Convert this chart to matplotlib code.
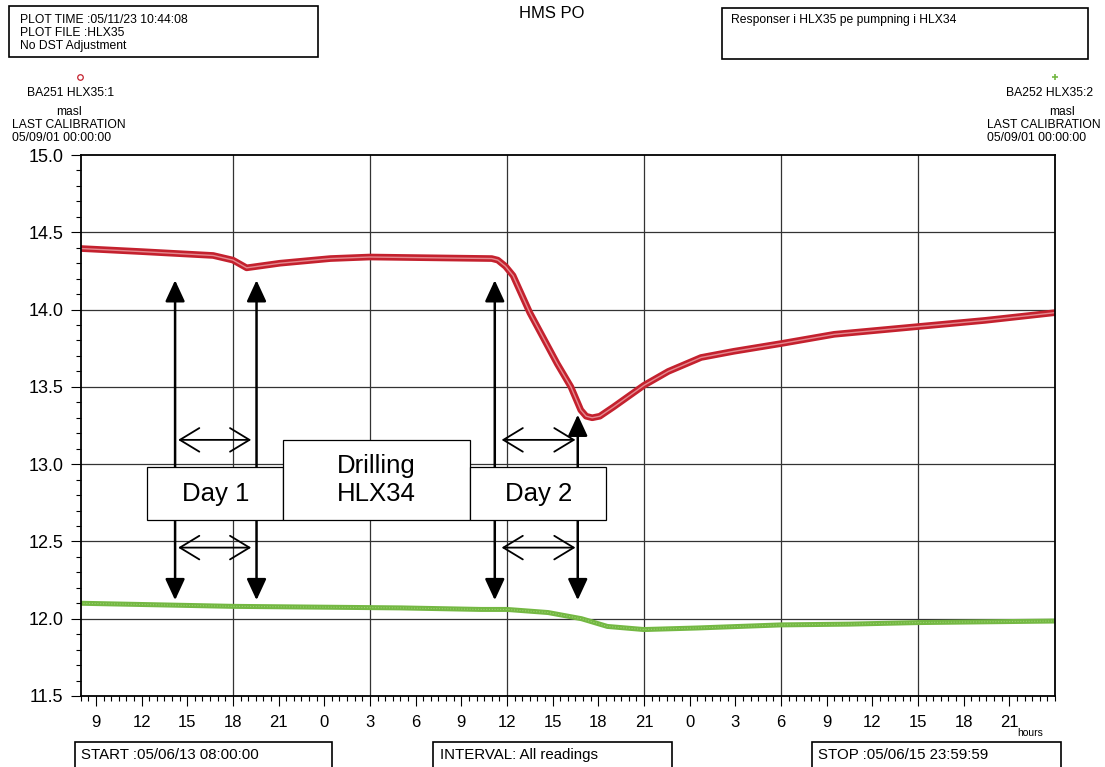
import matplotlib
matplotlib.use("Agg")
import matplotlib.pyplot as plt
from matplotlib.patches import Rectangle, FancyArrowPatch
from matplotlib.ticker import FixedLocator, MultipleLocator, FuncFormatter
from matplotlib.lines import Line2D

plt.rcParams['font.family'] = ['Liberation Sans', 'DejaVu Sans']

# hours since START (05/06/13 08:00:00)
red_hours = [0, 4, 8.7, 10, 10.9, 13.1, 16.4, 19, 23, 27, 27.4, 27.9, 28.4,
             29.5, 31.3, 32.2, 32.85, 33.2, 33.6, 34.1, 35, 37, 38.6, 40.75,
             42.9, 46, 49.5, 55, 59.4, 64]
red_vals = [14.395, 14.375, 14.35, 14.32, 14.27, 14.30, 14.33, 14.34, 14.335,
            14.33, 14.32, 14.28, 14.22, 13.98, 13.65, 13.50, 13.35, 13.31,
            13.30, 13.31, 13.37, 13.51, 13.60, 13.69, 13.73, 13.78, 13.84,
            13.89, 13.93, 13.98]

green_hours = [0, 10, 21, 26.3, 28, 30.7, 32.9, 34.6, 37, 40.5, 46, 50.5, 55, 64]
green_vals = [12.10, 12.08, 12.07, 12.06, 12.06, 12.04, 12.00, 11.95, 11.93,
              11.94, 11.96, 11.965, 11.975, 11.985]

grid_hours = [10, 19, 28, 37, 46, 55]
grid_levels = [12.0, 12.5, 13.0, 13.5, 14.0, 14.5]
label_hours = list(range(1, 64, 3))
start_hour = 8

# annotation layout (hours, masl)
vert_arrows = [(6.2, 14.19), (11.55, 14.19), (27.2, 14.19), (32.65, 13.32)]
arrow_bottom = 12.12
horiz_arrows = [(6.4, 11.2), (27.65, 32.5)]
horiz_levels = [13.157, 12.46]
boxes = [("Day 1", 4.37, 13.3, 12.64, 12.98),
         ("Drilling\nHLX34", 13.26, 25.6, 12.64, 13.157),
         ("Day 2", 25.6, 34.5, 12.64, 12.98)]

W, H = 1105, 767
fig = plt.figure(figsize=(W / 100, H / 100), dpi=100)
ax = fig.add_axes([80.7 / W, 1 - 696 / H, (1055 - 80.7) / W, (696 - 155) / H])

small = 8.7


def px(x, y):
    return x / W, 1 - y / H


def fig_box(x0, y0, x1, y1):
    fig.patches.append(Rectangle(px(x0, y1), (x1 - x0) / W, (y1 - y0) / H,
                                 transform=fig.transFigure, fill=False,
                                 edgecolor='black', linewidth=1.2))


# grid
for h in grid_hours:
    ax.axvline(h, color='#333333', linewidth=0.9, zorder=0.5)
for v in grid_levels:
    ax.axhline(v, color='#333333', linewidth=0.9, zorder=0.5)

# data series
ax.plot(red_hours, red_vals, color='#c4212e', linewidth=4.8,
        solid_capstyle='round', solid_joinstyle='round', zorder=2)
ax.plot(red_hours, red_vals, color='#e58a90', linewidth=1.0, zorder=2.1)
ax.plot(green_hours, green_vals, color='#74b843', linewidth=3.6,
        solid_joinstyle='round', zorder=2)
ax.plot(green_hours, green_vals, color='#9bd070', linewidth=0.8,
        linestyle=(0, (1, 1.5)), zorder=2.1)

# vertical arrows
for x, top in vert_arrows:
    ax.add_patch(FancyArrowPatch((x, arrow_bottom), (x, top),
                                 arrowstyle='<|-|>,head_length=13,head_width=6',
                                 mutation_scale=1, shrinkA=0, shrinkB=0,
                                 color='black', linewidth=1.8, zorder=3))
# horizontal arrows
for x0, x1 in horiz_arrows:
    for y in horiz_levels:
        ax.add_patch(FancyArrowPatch((x0, y), (x1, y),
                                     arrowstyle='<->,head_length=14,head_width=8.5',
                                     mutation_scale=1, shrinkA=0, shrinkB=0,
                                     color='black', linewidth=1.3, zorder=3))
# label boxes
for label, x0, x1, y0, y1 in boxes:
    ax.add_patch(Rectangle((x0, y0), x1 - x0, y1 - y0, facecolor='white',
                           edgecolor='black', linewidth=0.9, zorder=4))
    ax.text((x0 + x1) / 2, (y0 + y1) / 2, label, ha='center', va='center',
            fontsize=18.5, linespacing=1.2, zorder=5)

# axes
ax.set_xlim(0, 64)
ax.set_ylim(11.5, 15.0)
ax.xaxis.set_major_locator(FixedLocator(label_hours))
ax.xaxis.set_minor_locator(MultipleLocator(0.5))
ax.xaxis.set_major_formatter(FuncFormatter(lambda h, p: f"{int(round(h + start_hour)) % 24}"))
ax.yaxis.set_major_locator(MultipleLocator(0.5))
ax.yaxis.set_minor_locator(MultipleLocator(0.1))
ax.yaxis.set_major_formatter(FuncFormatter(lambda v, p: f"{v:.1f}"))
ax.tick_params(which='major', direction='out', length=7.5, width=0.8,
               color='black')
ax.tick_params(axis='x', which='major', pad=6, labelsize=12)
ax.tick_params(axis='y', which='major', pad=5, labelsize=13)
ax.tick_params(which='minor', direction='out', length=3.6, width=0.8)
for s in ax.spines.values():
    s.set_linewidth(1.3)

# header texts
fig_box(9, 6, 318, 57)
fig.text(*px(20, 20), "PLOT TIME :05/11/23 10:44:08", fontsize=small, va='center')
fig.text(*px(20, 33), "PLOT FILE :HLX35", fontsize=small, va='center')
fig.text(*px(20, 46), "No DST Adjustment", fontsize=small, va='center')
fig.text(*px(552, 14), "HMS PO", fontsize=12, ha='center', va='center')
fig_box(722, 8, 1088, 59)
fig.text(*px(731, 20), "Responser i HLX35 pe pumpning i HLX34", fontsize=small, va='center')

# series legends
fig.lines.append(Line2D([80 / W], [1 - 77 / H], transform=fig.transFigure,
                        marker='o', markersize=4, markerfacecolor='none',
                        markeredgecolor='#c4212e', markeredgewidth=0.9))
fig.lines.append(Line2D([1055 / W], [1 - 77 / H], transform=fig.transFigure,
                        marker='+', markersize=5, markeredgecolor='#74b843',
                        markeredgewidth=1.2))
fig.text(*px(71, 93), "BA251 HLX35:1", fontsize=small, ha='center', va='center')
fig.text(*px(69, 112), "masl", fontsize=small, ha='center', va='center')
fig.text(*px(12, 125), "LAST CALIBRATION", fontsize=small, va='center')
fig.text(*px(12, 138), "05/09/01 00:00:00", fontsize=small, va='center')
fig.text(*px(1050, 93), "BA252 HLX35:2", fontsize=small, ha='center', va='center')
fig.text(*px(1062, 112), "masl", fontsize=small, ha='center', va='center')
fig.text(*px(987, 125), "LAST CALIBRATION", fontsize=small, va='center')
fig.text(*px(987, 138), "05/09/01 00:00:00", fontsize=small, va='center')

# footer
fig.text(*px(1030, 733), "hours", fontsize=7.5, ha='center', va='center')
fig_box(75, 742, 332, 770)
fig.text(*px(81, 755), "START :05/06/13 08:00:00", fontsize=10.8, va='center')
fig_box(433, 742, 672, 770)
fig.text(*px(440, 755), "INTERVAL: All readings", fontsize=10.8, va='center')
fig_box(812, 742, 1061, 770)
fig.text(*px(818, 755), "STOP :05/06/15 23:59:59", fontsize=10.8, va='center')

fig.savefig("out.png", dpi=100)
